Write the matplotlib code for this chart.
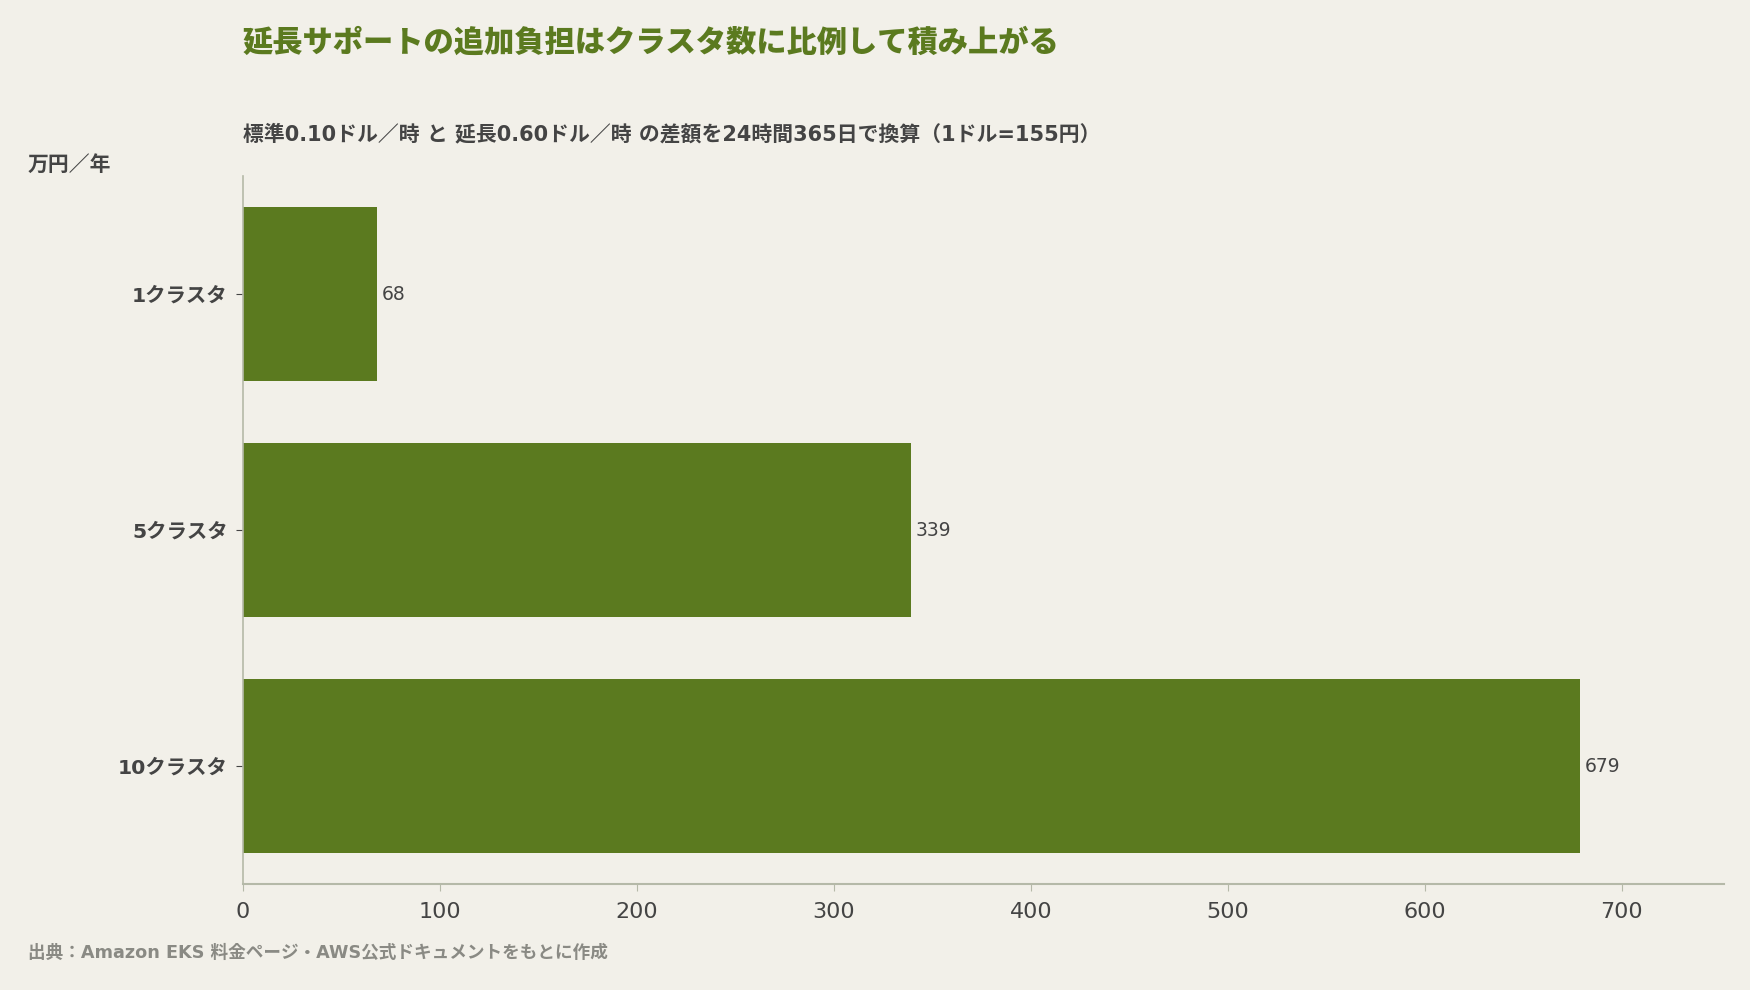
import matplotlib
matplotlib.use('Agg')
import matplotlib.pyplot as plt

# Latin from DejaVu, Japanese falls through to Noto CJK
plt.rcParams['font.family'] = ['DejaVu Sans', 'Noto Sans CJK JP']

# data
categories = ['1クラスタ', '5クラスタ', '10クラスタ']
values = [68, 339, 679]
x_ticks = [0, 100, 200, 300, 400, 500, 600, 700]

bg = '#f2f0e9'
bar_color = '#5b7a1f'
text_dark = '#444444'
spine_color = '#b5b9a8'

fig = plt.figure(figsize=(17.5, 9.9), dpi=100, facecolor=bg)
ax = fig.add_axes([243 / 1750, 1 - 884 / 990, (1724 - 243) / 1750, (884 - 176) / 990])
ax.set_facecolor(bg)

pos = list(range(len(categories)))
ax.barh(pos, values, height=0.735, color=bar_color)
for p, v in zip(pos, values):
    ax.text(v + 2.5, p, str(v), va='center', ha='left', fontsize=13.5, color=text_dark)

ax.set_ylim(2.5, -0.5)
ax.set_xlim(0, 752)
ax.set_yticks(pos)
ax.set_yticklabels(categories, fontsize=14.7, fontweight='bold', color=text_dark)
ax.set_xticks(x_ticks)
ax.set_xticklabels([str(t) for t in x_ticks], fontsize=16, color=text_dark)
ax.tick_params(axis='y', length=5, color=text_dark, pad=6)
ax.tick_params(axis='x', length=5, color=spine_color, pad=8)

for s in ['top', 'right']:
    ax.spines[s].set_visible(False)
ax.spines['left'].set_color(spine_color)
ax.spines['bottom'].set_color(spine_color)
ax.spines['left'].set_linewidth(1.2)
ax.spines['bottom'].set_linewidth(1.5)

fig.text(243 / 1750, 1 - 43 / 990, '延長サポートの追加負担はクラスタ数に比例して積み上がる',
         fontsize=21.8, fontweight='heavy', color=bar_color, va='center', ha='left')
fig.text(243 / 1750, 1 - 134 / 990, '標準0.10ドル／時 と 延長0.60ドル／時 の差額を24時間365日で換算（1ドル=155円）',
         fontsize=15, fontweight='bold', color=text_dark, va='center', ha='left')
fig.text(28 / 1750, 1 - 165 / 990, '万円／年', fontsize=15, fontweight='bold',
         color=text_dark, va='center', ha='left')
fig.text(28 / 1750, 1 - 953 / 990, '出典：Amazon EKS 料金ページ・AWS公式ドキュメントをもとに作成',
         fontsize=12.7, fontweight='bold', color='#8a8a84', va='center', ha='left')

fig.savefig('out.png', dpi=100, facecolor=bg)
